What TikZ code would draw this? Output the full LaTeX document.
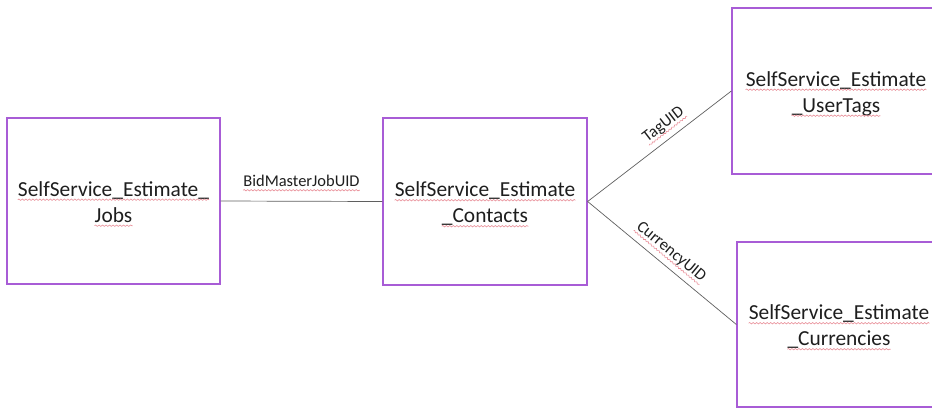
\documentclass[tikz,border=0pt]{standalone}
\usepackage{fontspec}
\setmainfont{Carlito}
\usetikzlibrary{positioning,decorations.pathmorphing}

\definecolor{boxpurple}{RGB}{168,92,214}
\definecolor{linkgray}{RGB}{95,95,95}
\definecolor{spellred}{RGB}{232,140,150}
\definecolor{inkblack}{RGB}{30,30,30}

\tikzset{
  tablebox/.style={draw=boxpurple, line width=1.3bp, inner sep=0pt},
  tabletext/.style={font=\fontsize{21.5}{26}\selectfont, text=inkblack, inner sep=0pt,
    text depth=3.5bp, anchor=base},
  link/.style={draw=linkgray, line width=0.7bp},
  keylabel/.style={font=\fontsize{16.5}{18}\selectfont, text=inkblack, inner sep=0pt,
    text depth=3bp},
  spellwave/.style={draw=spellred, line width=0.6bp,
    decorate, decoration={snake, amplitude=0.7bp, segment length=3.5bp}}
}

\begin{document}
\begin{tikzpicture}[x=1bp,y=-1bp]
  \useasboundingbox (0,0) rectangle (932,409);
  \clip (0,0) rectangle (932,409);

  % tables
  \node [tablebox, minimum width=213bp, minimum height=166bp] (jobs) at (113.5,201) {};
  \node [tablebox, minimum width=204bp, minimum height=167bp] (contacts) at (485,201.5) {};
  \node [tablebox, minimum width=208bp, minimum height=166bp] (usertags) at (836,91) {};
  \node [tablebox, minimum width=204bp, minimum height=165bp] (currencies) at (839,324.5) {};

  % table names, two lines each
  \node [tabletext] (jobs-a) at ([yshift=5bp]jobs.center) {SelfService\_Estimate\_};
  \node [tabletext] (jobs-b) at ([yshift=-21bp]jobs.center) {Jobs};
  \node [tabletext] (contacts-a) at ([yshift=5bp]contacts.center) {SelfService\_Estimate};
  \node [tabletext] (contacts-b) at ([yshift=-21bp]contacts.center) {\_Contacts};
  \node [tabletext] (usertags-a) at ([yshift=5bp]usertags.center) {SelfService\_Estimate};
  \node [tabletext] (usertags-b) at ([yshift=-21bp]usertags.center) {\_UserTags};
  \node [tabletext] (currencies-a) at ([yshift=5bp]currencies.center) {SelfService\_Estimate};
  \node [tabletext] (currencies-b) at ([yshift=-21bp]currencies.center) {\_Currencies};

  % keys
  \draw [link] (jobs.east) -- (contacts.west)
    node [keylabel, midway, above=11bp] (bidkey) {BidMasterJobUID};
  \draw [link] (contacts.east) -- (usertags.west)
    node [keylabel, pos=0.59, sloped, above=7bp] (tagkey) {TagUID};
  \draw [link] (contacts.east) -- (currencies.west)
    node [keylabel, pos=0.5, sloped, above=7bp] (currencykey) {CurrencyUID};

  % spell-check underlines
  \foreach \t in {jobs-a,jobs-b,contacts-a,contacts-b,usertags-a,usertags-b,
      currencies-a,currencies-b,bidkey,tagkey,currencykey}
    \draw [spellwave] (\t.south west) -- (\t.south east);
\end{tikzpicture}
\end{document}
